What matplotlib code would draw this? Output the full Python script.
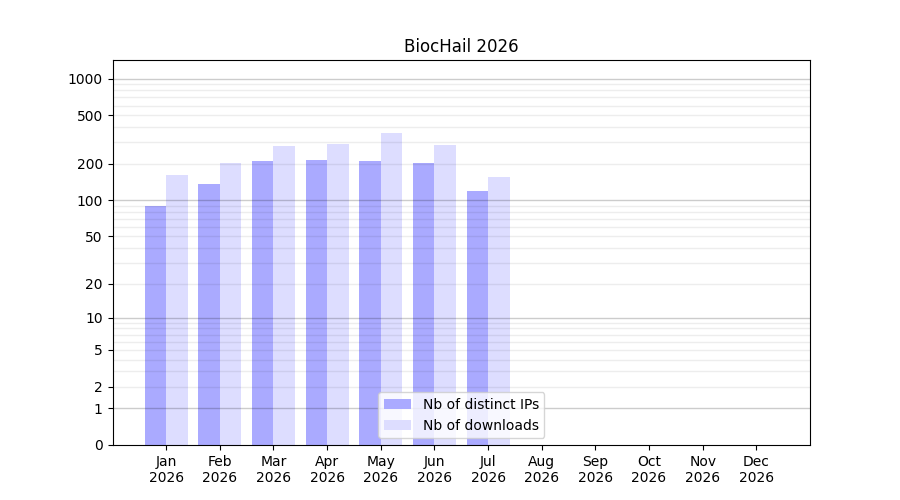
import numpy as np
import matplotlib
matplotlib.use('Agg')
from matplotlib import pyplot as plt
from matplotlib.ticker import NullLocator

months = ['Jan', 'Feb', 'Mar', 'Apr', 'May', 'Jun',
          'Jul', 'Aug', 'Sep', 'Oct', 'Nov', 'Dec']
year = '2026'
distinct_ips = [89, 136, 210, 214, 210, 202, 119, 0, 0, 0, 0, 0]
downloads = [161, 202, 279, 290, 357, 285, 155, 0, 0, 0, 0, 0]
yticks = [0, 1, 2, 5, 10, 20, 50, 100, 200, 500, 1000]


def fwd(v):
    return np.log10(np.maximum(v, 0) + 1)


def inv(v):
    return 10 ** v - 1


fig = plt.figure(dpi=100, figsize=(9, 5))
ax = fig.add_subplot(111)
ax.set_yscale('function', functions=(fwd, inv))

x = np.arange(len(months))
ax.bar(x - 0.2, distinct_ips, width=0.4, color='#aaaaff',
       label='Nb of distinct IPs')
ax.bar(x + 0.2, downloads, width=0.4, color='#ddddff',
       label='Nb of downloads')

# grid lines drawn over the bars: light for 2..9 x decade, darker for decades
for dec in [1, 10, 100]:
    for k in range(2, 10):
        ax.axhline(k * dec, color='black', alpha=0.07, lw=1, zorder=3)
for v in [1, 10, 100, 1000]:
    ax.axhline(v, color='black', alpha=0.2, lw=1, zorder=3)

ax.set_xlim(-1, 12)
ax.set_ylim(0, 1420)
ax.set_xticks(x)
ax.set_xticklabels([m + '\n' + year for m in months])
ax.set_yticks(yticks)
ax.set_yticklabels([str(t) for t in yticks])
ax.yaxis.set_minor_locator(NullLocator())
ax.set_title('BiocHail 2026')
ax.legend(loc='lower center')

plt.savefig('out.png')
